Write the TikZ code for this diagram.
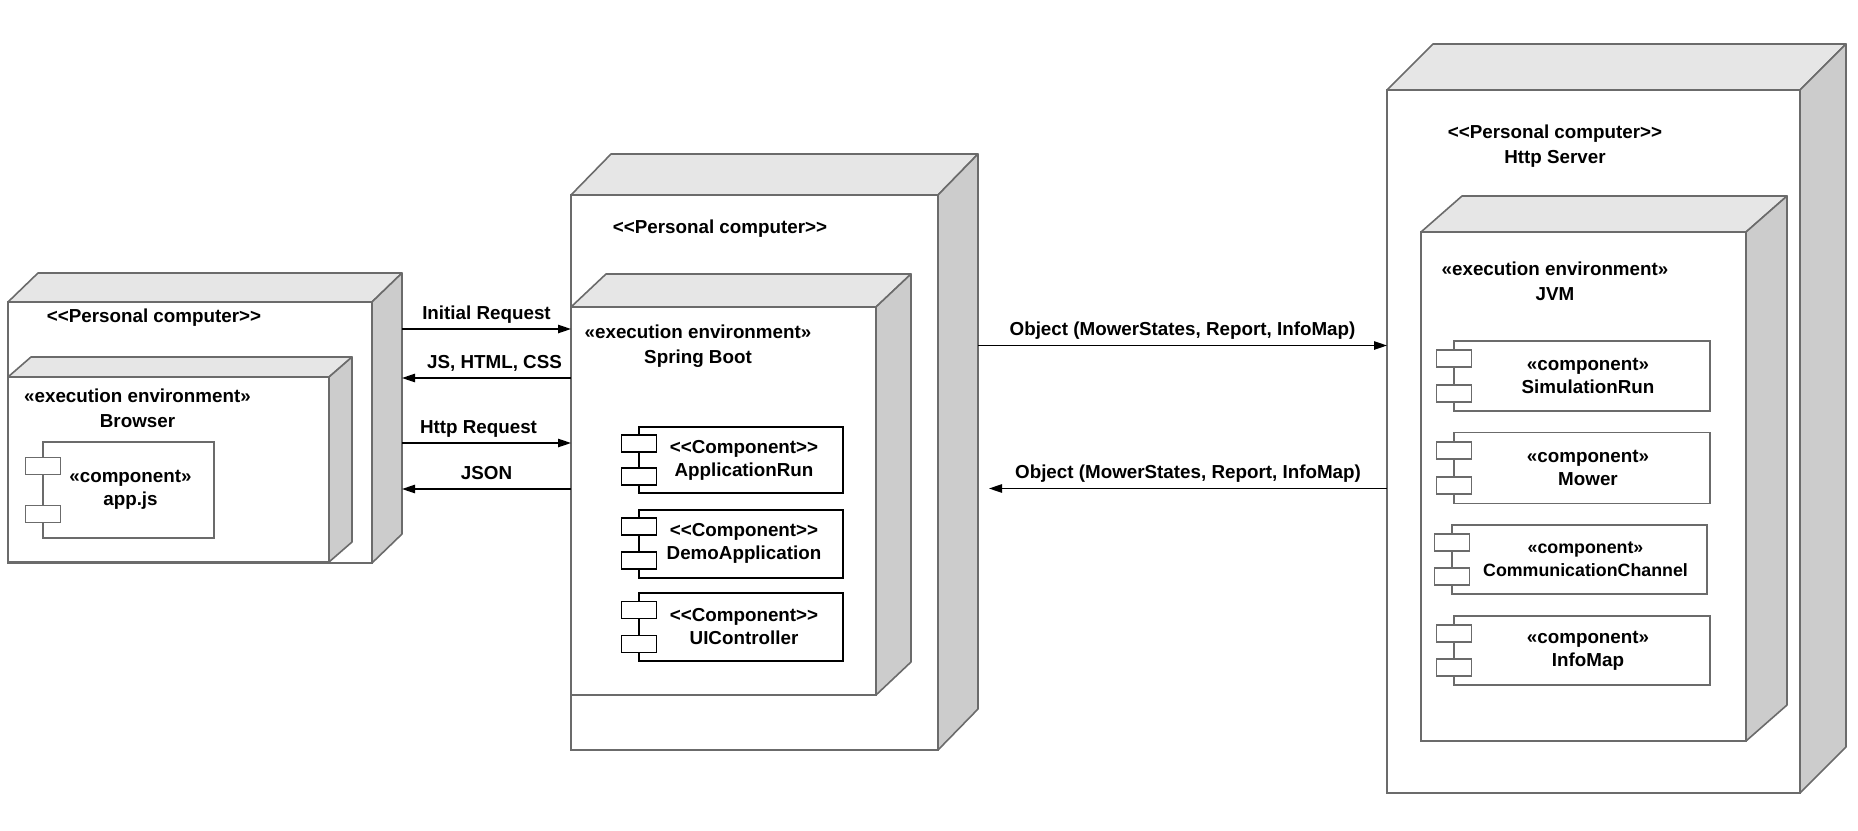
\documentclass[tikz,border=0pt]{standalone}
\usepackage{fontspec}
\setmainfont{Liberation Sans}
\usetikzlibrary{arrows.meta, calc}

\definecolor{edgegray}{HTML}{6B6B6B}
\definecolor{topgray}{HTML}{E6E6E6}
\definecolor{sidegray}{HTML}{CCCCCC}

% top and side face of a 3D node box: node, dx, dy
\newcommand{\boxfaces}[3]{%
  \filldraw[topface] (#1.north west) -- ++(#2,-#3) -- ([shift={(#2,-#3)}]#1.north east) -- (#1.north east) -- cycle;
  \filldraw[sideface] (#1.north east) -- ([shift={(#2,-#3)}]#1.north east) -- ([shift={(#2,-#3)}]#1.south east) -- (#1.south east) -- cycle;
  \coordinate (#1-back) at ([shift={(#2,-#3)}]#1.south east);
}
% the two small plugs on the left of a component
\newcommand{\plugs}[2][edgegray]{%
  \node[plug, draw=#1] (#2-p1) at ($(#2.north west)!0.25!(#2.south west)$) {};
  \node[plug, draw=#1] (#2-p2) at ($(#2.north west)!0.75!(#2.south west)$) {};
}

\begin{document}
\begin{tikzpicture}[
    x=0.5pt, y=-0.5pt,
    font=\fontsize{9.4}{12.5}\selectfont\bfseries,
    front/.style={rectangle, draw=edgegray, fill=white, line width=0.8pt, inner sep=0pt, outer sep=0pt, anchor=north west},
    topface/.style={draw=edgegray, fill=topgray, line width=0.8pt, line join=round},
    sideface/.style={draw=edgegray, fill=sidegray, line width=0.8pt, line join=round},
    comp/.style={rectangle, draw=edgegray, fill=white, line width=0.8pt, inner sep=0pt, outer sep=0pt, anchor=north west},
    ctext/.style={align=center, inner sep=0pt, font=\fontsize{9.4}{11.5}\selectfont\bfseries},
    plug/.style={rectangle, fill=white, line width=0.8pt, minimum width=17.5pt, minimum height=8.5pt, inner sep=0pt},
    arrow/.style={line width=0.75pt, ->, >={Triangle[length=6.5pt,width=4.2pt]}},
    lab/.style={anchor=base, yshift=5pt, inner sep=0pt}
  ]
  \useasboundingbox (0,0) rectangle (1858,830);

  % client
  \node[front, minimum width=182pt, minimum height=130.5pt] (pc1) at (8,302) {};
  \boxfaces{pc1}{30}{29}
  \node[front, minimum width=160.5pt, minimum height=92.5pt] (browser) at (8,377) {};
  \boxfaces{browser}{23}{20}
  \node[comp, minimum width=85.5pt, minimum height=48pt] (appjs) at (43,442) {};
  \plugs{appjs}
  \node[ctext] (appjs-txt) at ([xshift=1pt]appjs.center) {«component»\\app.js};
  \node (pc1-lbl) at (154,318) {<\kern0pt<Personal computer>\kern0pt>};
  \node[align=center] (browser-lbl) at (137.5,408.5) {«execution environment»\\Browser};

  % web server
  \node[front, minimum width=183.5pt, minimum height=277.5pt] (pc2) at (571,195) {};
  \boxfaces{pc2}{40}{41}
  \node[front, minimum width=152.5pt, minimum height=194pt] (spring) at (571,307) {};
  \boxfaces{spring}{35}{33}
  \node[comp, draw=black, line width=1pt, minimum width=102pt, minimum height=33pt] (apprun) at (639,427) {};
  \plugs[black]{apprun}
  \node[ctext] (apprun-txt) at ([xshift=1.5pt]apprun.center) {<\kern0pt<Component>\kern0pt>\\ApplicationRun};
  \node[comp, draw=black, line width=1pt, minimum width=102pt, minimum height=34pt] (demoapp) at (639,509.5) {};
  \plugs[black]{demoapp}
  \node[ctext] (demoapp-txt) at ([xshift=1.5pt]demoapp.center) {<\kern0pt<Component>\kern0pt>\\DemoApplication};
  \node[comp, draw=black, line width=1pt, minimum width=102pt, minimum height=34pt] (uictrl) at (639,593) {};
  \plugs[black]{uictrl}
  \node[ctext] (uictrl-txt) at ([xshift=1.5pt]uictrl.center) {<\kern0pt<Component>\kern0pt>\\UIController};
  \node (pc2-lbl) at (720,229) {<\kern0pt<Personal computer>\kern0pt>};
  \node[align=center] (spring-lbl) at (698,346) {«execution environment»\\Spring Boot};

  % http server
  \node[front, minimum width=206.5pt, minimum height=351.5pt] (pc3) at (1387,90) {};
  \boxfaces{pc3}{46}{46}
  \node[front, minimum width=162.5pt, minimum height=254.5pt] (jvm) at (1421,232) {};
  \boxfaces{jvm}{41}{36}
  \node[comp, minimum width=128pt, minimum height=35pt] (simrun) at (1454,341) {};
  \plugs{simrun}
  \node[ctext] (simrun-txt) at ([xshift=3pt]simrun.center) {«component»\\SimulationRun};
  \node[comp, minimum width=128pt, minimum height=35.5pt] (mower) at (1454,432.5) {};
  \plugs{mower}
  \node[ctext] (mower-txt) at ([xshift=3pt]mower.center) {«component»\\Mower};
  \node[comp, minimum width=127.5pt, minimum height=34.5pt] (commch) at (1452,525) {};
  \plugs{commch}
  \node[ctext, font=\fontsize{8.9}{11.5}\selectfont\bfseries] (commch-txt) at ([xshift=3pt]commch.center) {«component»\\CommunicationChannel};
  \node[comp, minimum width=128pt, minimum height=34.5pt] (infomap) at (1454,616) {};
  \plugs{infomap}
  \node[ctext] (infomap-txt) at ([xshift=3pt]infomap.center) {«component»\\InfoMap};
  \node[align=center] (pc3-lbl) at (1555,146.5) {<\kern0pt<Personal computer>\kern0pt>\\Http Server};
  \node[align=center] (jvm-lbl) at (1555,281.5) {«execution environment»\\JVM};

  % messages
  \draw[arrow] (pc1-back |- 0,329) -- node[lab] {Initial Request} (pc2.west |- 0,329);
  \draw[arrow] (pc2.west |- 0,378) -- node[lab, xshift=4pt] {JS, HTML, CSS} (pc1-back |- 0,378);
  \draw[arrow] (pc1-back |- 0,443) -- node[lab, xshift=-4pt] {Http Request} (pc2.west |- 0,443);
  \draw[arrow] (pc2.west |- 0,489) -- node[lab] {JSON} (pc1-back |- 0,489);

  \coordinate (ret-end) at ([xshift=5.5pt]pc2-back);
  \draw[arrow] (pc2-back |- 0,345.5) -- node[lab] {Object (MowerStates, Report, InfoMap)} (pc3.west |- 0,345.5);
  \draw[arrow] (pc3.west |- 0,488.5) -- node[lab] {Object (MowerStates, Report, InfoMap)} (ret-end |- 0,488.5);
\end{tikzpicture}
\end{document}
